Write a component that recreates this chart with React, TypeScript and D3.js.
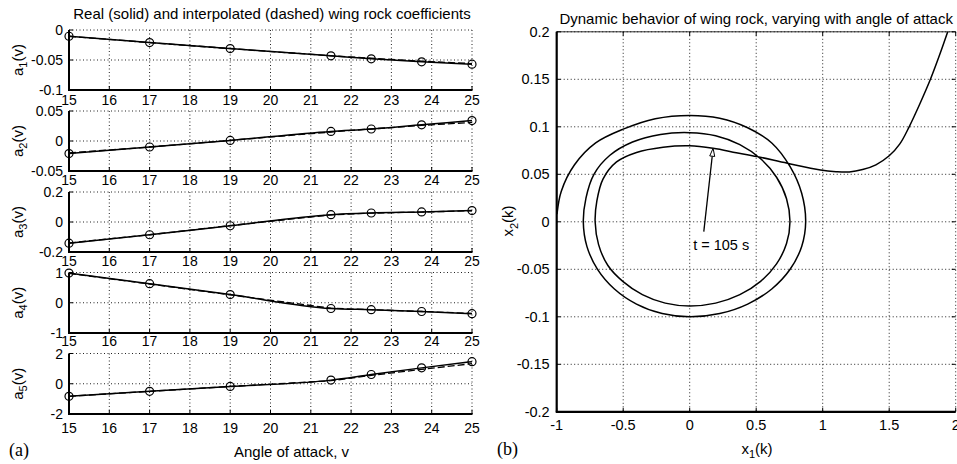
import React from "react";
import * as d3 from "d3";

const W = 957;
const H = 464;
const FONT = "'Liberation Sans', Arial, Helvetica, sans-serif";
const SERIF = "'Liberation Serif', 'Times New Roman', serif";

// angle of attack where the coefficients were tabulated
const angles = [15, 17, 19, 21.5, 22.5, 23.75, 25];
const angleTicks = [15, 16, 17, 18, 19, 20, 21, 22, 23, 24, 25];

// real (solid) and interpolated (dashed) coefficient values
const a1Real = [-0.0104, -0.021, -0.031, -0.043, -0.048, -0.053, -0.057];
const a1Interp = [-0.0104, -0.021, -0.031, -0.043, -0.047, -0.052, -0.056];
const a2Real = [-0.021, -0.01, 0.001, 0.016, 0.02, 0.027, 0.034];
const a2Interp = [-0.02, -0.01, 0.001, 0.015, 0.02, 0.026, 0.031];
const a3Real = [-0.141, -0.085, -0.025, 0.049, 0.06, 0.067, 0.076];
const a3Interp = [-0.14, -0.085, -0.024, 0.048, 0.059, 0.066, 0.075];
const a4Real = [0.98, 0.63, 0.27, -0.19, -0.23, -0.29, -0.36];
const a4Interp = [0.97, 0.62, 0.26, -0.18, -0.23, -0.29, -0.35];
const a5Real = [-0.83, -0.5, -0.18, 0.24, 0.61, 1.05, 1.46];
const a5Interp = [-0.83, -0.5, -0.18, 0.2, 0.55, 0.95, 1.33];

const a1Ticks = [-0.1, -0.05, 0];
const a2Ticks = [-0.05, 0, 0.05];
const a3Ticks = [-0.2, 0, 0.2];
const a4Ticks = [-1, 0, 1];
const a5Ticks = [-2, 0, 2];

// phase plane trajectory x1(k), x2(k), spiralling inwards then leaving to the right
const trajectory: [number, number][] = [
  [-0.998, 0.008], [-0.966, 0.032], [-0.866, 0.06], [-0.707, 0.083], [-0.5, 0.0975],
  [-0.259, 0.1085], [0, 0.112], [0.226, 0.109], [0.436, 0.099], [0.617, 0.083],
  [0.755, 0.058], [0.842, 0.03], [0.872, 0], [0.842, -0.0259], [0.755, -0.05],
  [0.617, -0.0707], [0.436, -0.0866], [0.226, -0.0966], [0, -0.1], [-0.207, -0.0966],
  [-0.4, -0.0866], [-0.566, -0.0707], [-0.693, -0.05], [-0.773, -0.0259], [-0.8, 0],
  [-0.78, 0.025], [-0.72, 0.05], [-0.6, 0.07], [-0.43, 0.084], [-0.22, 0.092],
  [0, 0.0938], [0.195, 0.0906], [0.377, 0.0812], [0.533, 0.0663], [0.653, 0.0469],
  [0.728, 0.0243], [0.754, 0], [0.728, -0.0229], [0.653, -0.0443], [0.533, -0.0627],
  [0.377, -0.0767], [0.195, -0.0856], [0, -0.0886], [-0.184, -0.0856], [-0.356, -0.0767],
  [-0.503, -0.0627], [-0.615, -0.046], [-0.685, -0.024], [-0.711, 0], [-0.698, 0.022],
  [-0.652, 0.045], [-0.55, 0.063], [-0.4, 0.073], [-0.2, 0.0785], [0, 0.08],
  [0.176, 0.0774], [0.35, 0.0728], [0.508, 0.0686], [0.734, 0.0616], [0.983, 0.0545],
  [1.1, 0.0528], [1.2, 0.0525], [1.3, 0.055], [1.4, 0.06], [1.5, 0.0695],
  [1.58, 0.082], [1.65, 0.1], [1.73, 0.124], [1.81, 0.15], [1.88, 0.176], [1.94, 0.2],
];
const x1Ticks = [-1, -0.5, 0, 0.5, 1, 1.5, 2];
const x2Ticks = [-0.2, -0.15, -0.1, -0.05, 0, 0.05, 0.1, 0.15, 0.2];
const arrowFrom: [number, number] = [0.106, -0.0104];
const arrowTo: [number, number] = [0.176, 0.0774];
const arrowLabel = "t = 105 s";

const fmt = (v: number) => String(v);

const leftX = d3.scaleLinear().domain([15, 25]).range([69, 472]);

const rows = [
  { sub: "1", real: a1Real, interp: a1Interp, ticks: a1Ticks, top: 30, bottom: 90, gap: 10 },
  { sub: "2", real: a2Real, interp: a2Interp, ticks: a2Ticks, top: 111, bottom: 171, gap: 9 },
  { sub: "3", real: a3Real, interp: a3Interp, ticks: a3Ticks, top: 192, bottom: 252, gap: 9 },
  { sub: "4", real: a4Real, interp: a4Interp, ticks: a4Ticks, top: 272.5, bottom: 333, gap: 8 },
  { sub: "5", real: a5Real, interp: a5Interp, ticks: a5Ticks, top: 353.5, bottom: 414, gap: 14 },
];

const grid = { stroke: "#222", strokeWidth: 1, strokeDasharray: "1 2.5" };

function CoefRow({ row }: { row: typeof rows[number] }) {
  const y = d3.scaleLinear()
    .domain([row.ticks[0], row.ticks[row.ticks.length - 1]])
    .range([row.bottom, row.top]);
  const lineReal = d3.line<number>().x((_, i) => leftX(angles[i])).y((d) => y(d)).curve(d3.curveMonotoneX);
  const lineInterp = d3.line<number>().x((_, i) => leftX(angles[i])).y((d) => y(d));
  const [x0, x1] = leftX.range();
  const mid = (row.top + row.bottom) / 2;
  return (
    <g>
      {/* grid */}
      {angleTicks.slice(1).map((t) => (
        <line key={"gx" + t} x1={leftX(t)} x2={leftX(t)} y1={row.top} y2={row.bottom} {...grid} />
      ))}
      {row.ticks.slice(1).map((t) => (
        <line key={"gy" + t} x1={x0} x2={x1} y1={y(t)} y2={y(t)} {...grid} />
      ))}
      {/* axes */}
      <line x1={x0} x2={x0} y1={row.top} y2={row.bottom} stroke="#000" strokeWidth={2} />
      <line x1={x0 - 1} x2={x1 + 0.5} y1={row.bottom} y2={row.bottom} stroke="#000" strokeWidth={2} />
      {angleTicks.map((t) => (
        <line key={"tx" + t} x1={leftX(t)} x2={leftX(t)} y1={row.bottom} y2={row.bottom - 4} stroke="#000" strokeWidth={1} />
      ))}
      {row.ticks.map((t) => (
        <line key={"ty" + t} x1={x0} x2={x0 + 4} y1={y(t)} y2={y(t)} stroke="#000" strokeWidth={1} />
      ))}
      {angleTicks.map((t) => (
        <text key={"lx" + t} x={leftX(t)} y={row.bottom + row.gap} textAnchor="middle" dominantBaseline="central" fontSize={14}>
          {t}
        </text>
      ))}
      {row.ticks.map((t) => (
        <text key={"ly" + t} x={x0 - 6} y={y(t)} textAnchor="end" dominantBaseline="central" fontSize={14}>
          {fmt(t)}
        </text>
      ))}
      {/* data */}
      <path d={lineInterp(row.interp) || ""} fill="none" stroke="#000" strokeWidth={1.3} strokeDasharray="7 3" />
      <path d={lineReal(row.real) || ""} fill="none" stroke="#000" strokeWidth={1.5} />
      {row.real.map((v, i) => (
        <circle key={"c" + i} cx={leftX(angles[i])} cy={y(v)} r={4} fill="none" stroke="#000" strokeWidth={1.2} />
      ))}
      <text transform={`translate(17,${mid}) rotate(-90)`} textAnchor="middle" dominantBaseline="central" fontSize={15}>
        a<tspan baselineShift="sub" fontSize={11}>{row.sub}</tspan>(v)
      </text>
    </g>
  );
}

function PhasePlot() {
  const x = d3.scaleLinear().domain([-1, 2]).range([556.7, 955.7]);
  const y = d3.scaleLinear().domain([-0.2, 0.2]).range([411.8, 31.8]);
  const line = d3.line<[number, number]>().x((d) => x(d[0])).y((d) => y(d[1])).curve(d3.curveCatmullRom);
  const [x0, x1] = x.range();
  const [yb, yt] = y.range();
  const ax = x(arrowFrom[0]), ay = y(arrowFrom[1]);
  const bx = x(arrowTo[0]), by = y(arrowTo[1]);
  const ang = Math.atan2(by - ay, bx - ax);
  const hl = 8, hw = 2.5;
  const baseX = bx - hl * Math.cos(ang), baseY = by - hl * Math.sin(ang);
  const head = [
    [bx, by],
    [baseX + hw * Math.sin(ang), baseY - hw * Math.cos(ang)],
    [baseX - hw * Math.sin(ang), baseY + hw * Math.cos(ang)],
  ].map((p) => p.join(",")).join(" ");
  return (
    <g>
      {x1Ticks.slice(1).map((t) => (
        <line key={"gx" + t} x1={x(t)} x2={x(t)} y1={yt} y2={yb} {...grid} />
      ))}
      {x2Ticks.slice(1).map((t) => (
        <line key={"gy" + t} x1={x0} x2={x1} y1={y(t)} y2={y(t)} {...grid} />
      ))}
      <line x1={x0} x2={x1} y1={yt} y2={yt} stroke="#000" strokeWidth={0.8} />
      <line x1={x0} x2={x0} y1={yt} y2={yb} stroke="#000" strokeWidth={2.2} />
      <line x1={x0 - 1} x2={x1} y1={yb} y2={yb} stroke="#000" strokeWidth={2.2} />
      {x1Ticks.map((t) => (
        <g key={"tx" + t}>
          <line x1={x(t)} x2={x(t)} y1={yb} y2={yb - 4} stroke="#000" />
          <line x1={x(t)} x2={x(t)} y1={yt} y2={yt + 4} stroke="#000" />
          <text x={x(t)} y={yb + 13} textAnchor="middle" dominantBaseline="central" fontSize={14.5}>{fmt(t)}</text>
        </g>
      ))}
      {x2Ticks.map((t) => (
        <g key={"ty" + t}>
          <line x1={x0} x2={x0 + 4} y1={y(t)} y2={y(t)} stroke="#000" />
          <line x1={x1} x2={x1 - 4} y1={y(t)} y2={y(t)} stroke="#000" />
          <text x={x0 - 7} y={y(t)} textAnchor="end" dominantBaseline="central" fontSize={14.5}>{fmt(t)}</text>
        </g>
      ))}
      <path d={line(trajectory) || ""} fill="none" stroke="#000" strokeWidth={1.5} />
      <line x1={ax} y1={ay} x2={baseX} y2={baseY} stroke="#000" strokeWidth={1.3} />
      <polygon points={head} fill="#fff" stroke="#000" strokeWidth={1} />
      <text x={x(0.026)} y={y(-0.0297)} fontSize={14.5}>{arrowLabel}</text>
      <text x={(x0 + x1) / 2} y={23.5} textAnchor="middle" fontSize={15}>
        Dynamic behavior of wing rock, varying with angle of attack
      </text>
      <text x={757} y={448} textAnchor="middle" dominantBaseline="central" fontSize={15}>
        x<tspan baselineShift="sub" fontSize={11}>1</tspan>(k)
      </text>
      <text transform={`translate(507.5,221) rotate(-90)`} textAnchor="middle" dominantBaseline="central" fontSize={15}>
        x<tspan baselineShift="sub" fontSize={11}>2</tspan>(k)
      </text>
      <text x={497} y={455} fontFamily={SERIF} fontSize={18}>(b)</text>
    </g>
  );
}

export default function App() {
  return (
    <svg width={W} height={H} style={{ position: "absolute", left: 0, top: 0, background: "#fff" }}
      fontFamily={FONT} fill="#000">
      <rect width={W} height={H} fill="#fff" />
      {rows.map((r) => (
        <CoefRow key={r.sub} row={r} />
      ))}
      <text x={272} y={19} textAnchor="middle" fontSize={15}>
        Real (solid) and interpolated (dashed) wing rock coefficients
      </text>
      <text x={291.5} y={451.5} textAnchor="middle" dominantBaseline="central" fontSize={15}>
        Angle of attack, v
      </text>
      <text x={9} y={456} fontFamily={SERIF} fontSize={18}>(a)</text>
      <PhasePlot />
    </svg>
  );
}
